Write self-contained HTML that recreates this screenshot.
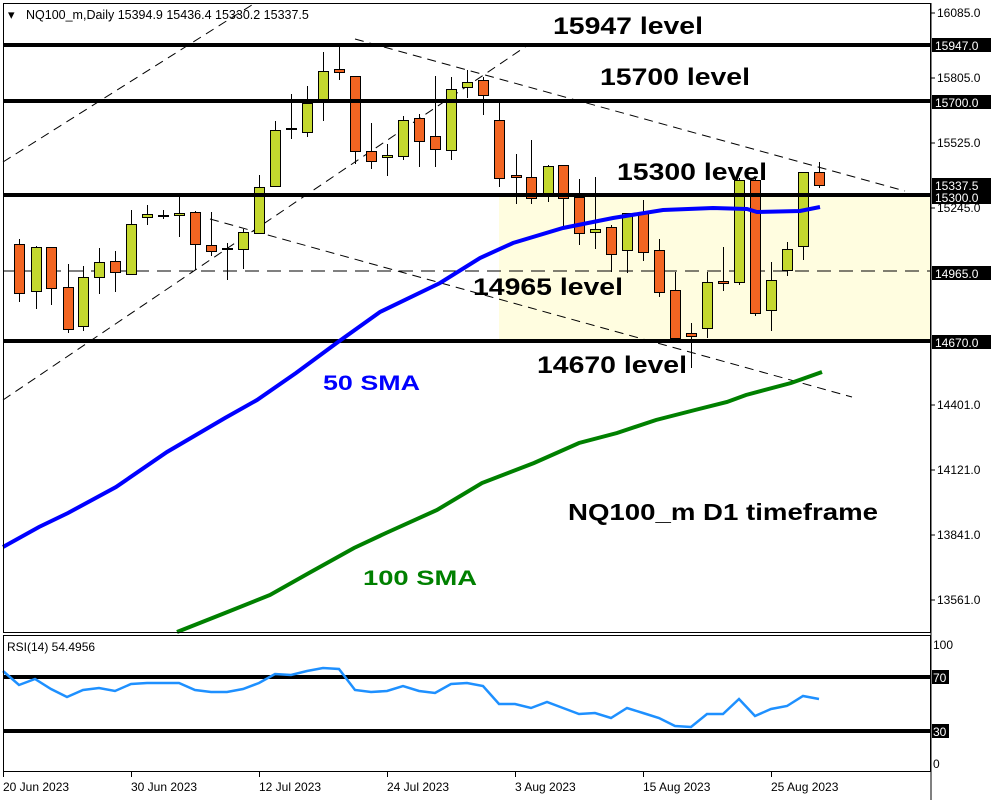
<!DOCTYPE html>
<html><head><meta charset="utf-8"><style>
html,body{margin:0;padding:0;background:#fff;}
svg{display:block;font-family:"Liberation Sans",sans-serif;}
.lv{font-weight:bold;font-size:24px;fill:#000;}
.ax{font-size:12px;fill:#000;}
.axw{font-size:12px;fill:#fff;}
</style></head><body>
<svg id="s" width="1000" height="800" viewBox="0 0 1000 800" xmlns="http://www.w3.org/2000/svg">
<rect x="0" y="0" width="1000" height="800" fill="#fff"/>
<rect x="499" y="195" width="432" height="146" fill="#FFFDE0"/>
<g id="dash" stroke="#000" stroke-width="1" stroke-dasharray="9,6" fill="none">
<line x1="3" y1="162" x2="255" y2="3"/>
<line x1="3" y1="400" x2="528" y2="45"/>
<line x1="355" y1="39" x2="905" y2="191"/>
<line x1="210" y1="219" x2="852" y2="397"/>
<line x1="3" y1="271" x2="930" y2="271" stroke-dasharray="14,8"/>
</g>
<g id="candles"></g>
<g stroke="#000" stroke-width="4">
<line x1="3" y1="45" x2="931" y2="45"/>
<line x1="3" y1="101" x2="931" y2="101"/>
<line x1="3" y1="195" x2="931" y2="195"/>
<line x1="3" y1="341" x2="931" y2="341"/>
<line x1="3" y1="677" x2="931" y2="677"/>
<line x1="3" y1="731" x2="931" y2="731"/>
</g>
<polyline fill="none" stroke="#0000FF" stroke-width="4" points="3,547 39,527 68,513 116,487 167,452 225,418 257,400 296,373 338,342 380,312 440,283 480,258 513,243 563,228 613,218 663,210 713,208 747,209 757,212 800,211 820,207"/>
<polyline fill="none" stroke="#008000" stroke-width="4" points="177,632 225,613 270,595 309,573 354,548 386,533 437,510 482,483 534,463 579,443 617,433 656,420 695,410 727,402 746,395 791,383 822,372"/>
<polyline id="rsi" fill="none" stroke="#1E90FF" stroke-width="2.5"/>
<rect x="3.5" y="3.5" width="927" height="629" fill="none" stroke="#000" stroke-width="1"/>
<rect x="3.5" y="635.5" width="927" height="136" fill="none" stroke="#000" stroke-width="1"/>
<text x="8" y="19" font-size="13">▾</text>
<text x="26" y="19" font-size="12.5" fill="#000">NQ100_m,Daily  15394.9 15436.4 15330.2 15337.5</text>
<text x="553" y="34" class="lv" textLength="150" lengthAdjust="spacingAndGlyphs">15947 level</text>
<text x="600" y="85" class="lv" textLength="150" lengthAdjust="spacingAndGlyphs">15700 level</text>
<text x="617" y="180" class="lv" textLength="150" lengthAdjust="spacingAndGlyphs">15300 level</text>
<text x="473" y="295" class="lv" textLength="150" lengthAdjust="spacingAndGlyphs">14965 level</text>
<text x="537" y="373" class="lv" textLength="150" lengthAdjust="spacingAndGlyphs">14670 level</text>
<text x="323" y="390" font-weight="bold" font-size="21" fill="#0000FF" textLength="97" lengthAdjust="spacingAndGlyphs">50 SMA</text>
<text x="363" y="585" font-weight="bold" font-size="21" fill="#008000" textLength="114" lengthAdjust="spacingAndGlyphs">100 SMA</text>
<text x="568" y="520" font-weight="bold" font-size="23" fill="#000" textLength="310" lengthAdjust="spacingAndGlyphs">NQ100_m D1 timeframe</text>
<text x="7" y="651" font-size="12">RSI(14) 54.4956</text>
<g id="axis"></g>
</svg>
<script>
var s=document.getElementById('s'),NS='http://www.w3.org/2000/svg';
function el(p,t,a,txt){var e=document.createElementNS(NS,t);for(var k in a)e.setAttribute(k,a[k]);if(txt!=null)e.textContent=txt;p.appendChild(e);return e;}
var O='#F26522',G='#C4D82E';
var C=[[19,244,293,239,302,O],[36,247,291,246,309,G],[51,247,288,247,305,O],[68,287,329,264,333,O],[83,277,326,266,331,G],[99,262,277,248,294,G],[115,261,272,251,292,O],[131,224,274,210,274,G],[147,214,217,205,225,G],[163,216,216,210,219,'d'],[179,213,215,196,237,G],[195,212,244,211,270,O],[211,245,251,212,256,O],[227,249,249,243,280,'d'],[243,232,249,229,269,G],[259,187,233,175,234,G],[275,130,186,121,186,G],[291,129,129,94,139,'d'],[307,103,132,86,137,G],[323,71,99,52,121,G],[339,69,72,47,80,O],[355,76,151,76,164,O],[371,151,161,123,169,O],[387,155,157,144,176,G],[403,120,156,116,160,G],[419,118,141,114,167,O],[435,136,149,76,167,O],[451,89,150,77,160,G],[467,82,87,70,98,G],[483,80,95,77,115,O],[499,120,178,103,187,O],[516,175,177,154,204,O],[531,177,198,140,204,O],[548,166,195,165,202,G],[563,165,198,165,228,O],[579,197,233,179,245,O],[595,229,232,177,249,G],[611,227,254,225,272,O],[627,213,250,213,273,G],[643,213,252,200,261,O],[659,250,292,239,297,O],[675,290,338,272,338,O],[691,333,336,323,368,O],[707,282,328,272,338,G],[723,281,283,247,291,O],[739,180,282,178,285,G],[755,180,313,178,316,O],[771,280,310,262,331,G],[787,249,270,242,276,G],[803,172,246,172,260,G],[819,172,185,162,188,O]];
var g=document.getElementById('candles');
C.forEach(function(c){
 el(g,'line',{x1:c[0]+.5,x2:c[0]+.5,y1:c[3],y2:c[4],stroke:'#000','stroke-width':1});
 if(c[5]=='d'){el(g,'line',{x1:c[0]-5,x2:c[0]+6,y1:c[1],y2:c[1],stroke:'#000','stroke-width':2});}
 else el(g,'rect',{x:c[0]-4.5,y:c[1]+.5,width:10,height:Math.max(2,c[2]-c[1]),fill:c[5],stroke:'#000','stroke-width':1});
});
var R=[671,685,679,689,697,690,688,691,684,683,683,683,690,692,692,689,683,674,675,671,668,669,690,692,691,686,691,693,684,683,686,704,704,708,702,708,714,713,718,708,713,718,726,727,714,714,699,716,709,706,696,699];
document.getElementById('rsi').setAttribute('points',R.map(function(v,i){return (3+16*i)+','+v;}).join(' '));
var a=document.getElementById('axis');
el(a,'line',{x1:931,y1:3,x2:931,y2:800,stroke:'#000','stroke-width':1});
var L=[[16085,13,0],[15805,78,0],[15525,143,0],[15245,208,0],[14401,405,0],[14121,470,0],[13841,535,0],[13561,600,0]];
L.forEach(function(l){el(a,'line',{x1:931,x2:935,y1:l[1],y2:l[1],stroke:'#000'});el(a,'text',{x:937,y:l[1]+4,'class':'ax'},l[0]+'.0');});
var B=[['15947.0',45],['15700.0',102],['15337.5',185],['15300.0',197],['14965.0',273],['14670.0',342]];
B.forEach(function(b){el(a,'rect',{x:932,y:b[1]-7,width:59,height:14,fill:'#000'});el(a,'text',{x:935,y:b[1]+5,'class':'axw'},b[0]);});
el(a,'text',{x:933,y:649,'class':'ax'},'100');
el(a,'rect',{x:932,y:670,width:17,height:14,fill:'#000'});el(a,'text',{x:933,y:682,'class':'axw'},'70');
el(a,'rect',{x:932,y:724,width:17,height:14,fill:'#000'});el(a,'text',{x:933,y:736,'class':'axw'},'30');
el(a,'text',{x:933,y:768,'class':'ax'},'0');
var D=[['20 Jun 2023',3],['30 Jun 2023',131],['12 Jul 2023',259],['24 Jul 2023',387],['3 Aug 2023',515],['15 Aug 2023',643],['25 Aug 2023',771]];
D.forEach(function(d){el(a,'line',{x1:d[1]+.5,x2:d[1]+.5,y1:772,y2:777,stroke:'#000'});el(a,'text',{x:d[1],y:791,'class':'ax'},d[0]);});
</script>
</body></html>
